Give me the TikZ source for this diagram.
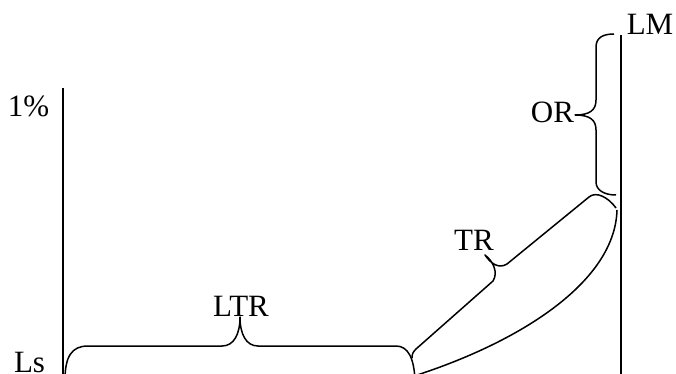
\documentclass[tikz,border=0pt]{standalone}
\usepackage{fontspec}
\setmainfont{Liberation Serif}
\begin{document}
\begin{tikzpicture}[x=1pt,y=-1pt,
  axisline/.style={line width=2pt},
  bracepath/.style={line width=1.5pt,line join=round},
  lbl/.style={font=\fontsize{31}{37}\selectfont,inner sep=0pt,anchor=base}]
\useasboundingbox (0,0) rectangle (676,374);
% labels
\node[lbl] (pct) at (28.5,117) {1\%};
\node[lbl] (ls) at (29.5,372) {Ls};
\node[lbl] (ltr) at (241,316) {LTR};
\node[lbl] (lm) at (650,35) {LM};
\node[lbl] (or) at (552.5,123) {OR};
\node[lbl] (tr) at (474,250) {TR};
% axes
\coordinate (la) at (63,88);
\coordinate (lb) at (63,380);
\coordinate (ra) at (620.5,35);
\coordinate (rb) at (620.5,380);
\draw[axisline] (la) -- (lb);
\draw[axisline] (ra) -- (rb);
% LTR brace
\draw[bracepath] (65,380) .. controls (65,356) and (72,346) .. (88,346) -- (222,346)
  .. controls (234,346) and (240,334) .. (240,317)
  .. controls (240,334) and (246,346) .. (258,346) -- (396,346)
  .. controls (408,346) and (414,358) .. (415,380);
% TR brace
\draw[bracepath] (412,358) .. controls (412,354) and (413,352) .. (416,349) -- (493,281)
  .. controls (498,273) and (494,262) .. (485,255)
  .. controls (491,264) and (499,269) .. (507,264) -- (589,197)
  .. controls (596,191) and (608,197) .. (616,208);
% arc
\draw[bracepath] (414,376) .. controls (520,342) and (615,282) .. (617,210);
% OR brace
\draw[bracepath] (614,34) .. controls (604,34) and (596,37) .. (596,47) -- (596,100)
  .. controls (596,110) and (590,115) .. (575,115)
  .. controls (590,115) and (596,120) .. (596,130) -- (596,182)
  .. controls (596,190) and (604,195) .. (616,195);
\end{tikzpicture}
\end{document}
